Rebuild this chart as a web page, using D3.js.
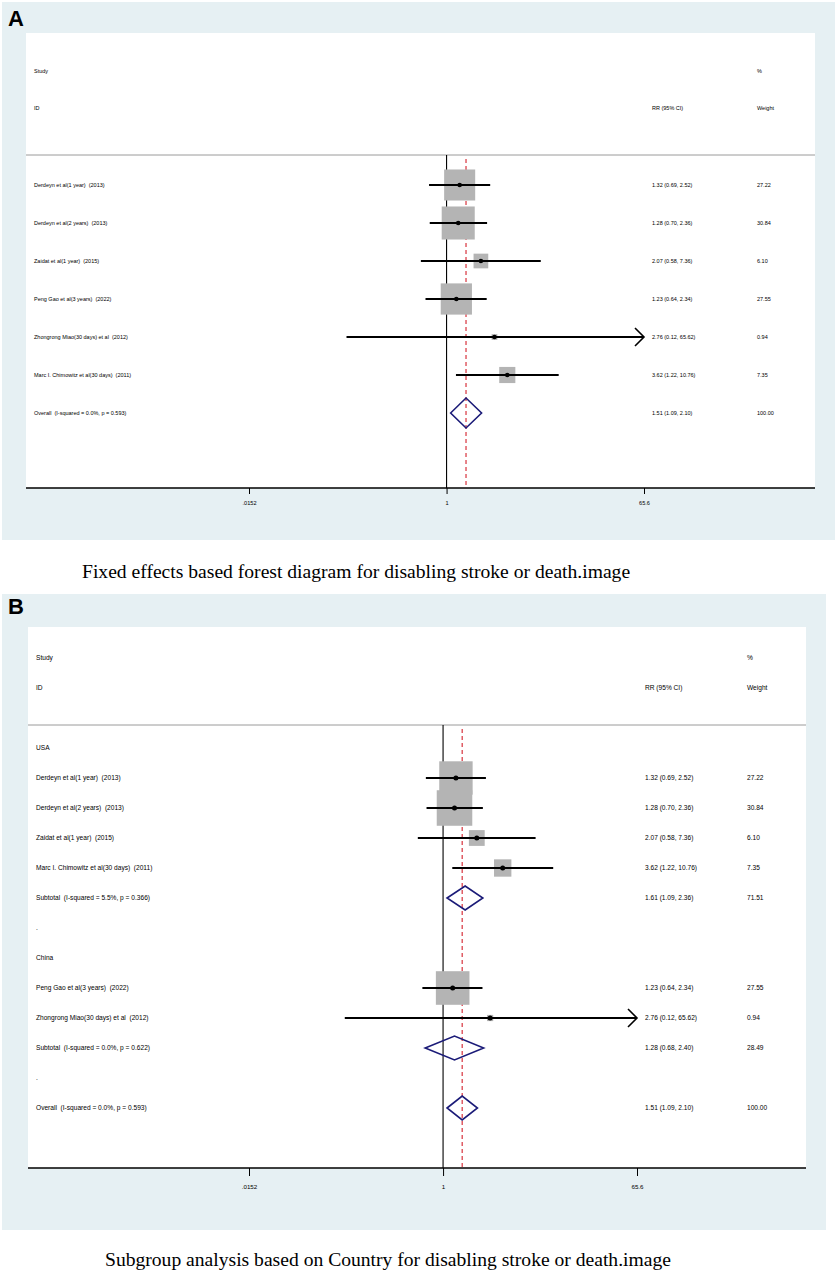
<!DOCTYPE html>
<html lang="en">
<head>
<meta charset="UTF-8" />
<title>Forest plots - disabling stroke or death</title>
<script src="https://d3js.org/d3.v7.min.js"></script>
<style>
    body { margin: 0; background: #fff; }
    svg { display: block; }
    .lbl { font-family: "Liberation Sans", Arial, sans-serif; fill: #000; white-space: pre; }
    .cap { font-family: "Liberation Serif", "Times New Roman", serif; fill: #000; }
</style>
</head>
<body>
<script>
    // study level data
    const studyNames = [
        "Derdeyn et al(1 year)  (2013)",
        "Derdeyn et al(2 years)  (2013)",
        "Zaidat et al(1 year)  (2015)",
        "Peng Gao et al(3 years)  (2022)",
        "Zhongrong Miao(30 days) et al  (2012)",
        "Marc I. Chimowitz et al(30 days)  (2011)"
    ];
    const studyCountry = ["USA", "USA", "USA", "China", "China", "USA"];
    const studyRR = [1.32, 1.28, 2.07, 1.23, 2.76, 3.62];
    const studyLo = [0.69, 0.70, 0.58, 0.64, 0.12, 1.22];
    const studyHi = [2.52, 2.36, 7.36, 2.34, 65.62, 10.76];
    const studyWeight = [27.22, 30.84, 6.10, 27.55, 0.94, 7.35];

    // subgroups (panel B)
    const countries = ["USA", "China"];
    const subtotalLabels = ["Subtotal  (I-squared = 5.5%, p = 0.366)", "Subtotal  (I-squared = 0.0%, p = 0.622)"];
    const subRR = [1.61, 1.28];
    const subLo = [1.09, 0.68];
    const subHi = [2.36, 2.40];
    const subWeight = [71.51, 28.49];

    // pooled
    const overallLabel = "Overall  (I-squared = 0.0%, p = 0.593)";
    const overallEst = [1.51, 1.09, 2.10];
    const overallWeight = 100.00;

    // x axis
    const tickValues = [0.0152, 1, 65.6];
    const tickLabels = [".0152", "1", "65.6"];

    const captions = [
        "Fixed effects based forest diagram for disabling stroke or death.image",
        "Subgroup analysis based on Country for disabling stroke or death.image"
    ];

    const fmt = d3.format(".2f");
    const ciText = (r, l, h) => fmt(r) + " (" + fmt(l) + ", " + fmt(h) + ")";

    function studyRow(i) {
        return { type: "study", label: studyNames[i], rr: studyRR[i], lo: studyLo[i], hi: studyHi[i], w: studyWeight[i] };
    }
    const overallRow = { type: "pooled", label: overallLabel, rr: overallEst[0], lo: overallEst[1], hi: overallEst[2], w: overallWeight };

    // panel A rows: all studies then overall
    const rowsA = studyNames.map((_, i) => studyRow(i)).concat([overallRow]);

    // panel B rows: grouped by country
    const rowsB = [];
    countries.forEach((c, g) => {
        rowsB.push({ type: "heading", label: c });
        studyNames.forEach((_, i) => { if (studyCountry[i] === c) rowsB.push(studyRow(i)); });
        rowsB.push({ type: "pooled", label: subtotalLabels[g], rr: subRR[g], lo: subLo[g], hi: subHi[g], w: subWeight[g] });
        rowsB.push({ type: "heading", label: "." });
    });
    rowsB.push(overallRow);

    const panels = [
        { letter: "A", letterY: 26, bg: [2, 2, 835, 540], plot: [26, 33, 815, 488], sepY: 155,
          rowY: [185, 413], xRange: [249, 644], labelX: 34, rrX: 652, wX: 757, headY: [71, 108],
          font: 5.5, tickFont: 5.6, tickLen: 6, tickY: 503, boxK: 5.95, dH: 15, dot: 2.3, arrow: 9,
          rows: rowsA, capX: 82, capY: 578 },
        { letter: "B", letterY: 614, bg: [2, 594, 826, 1230], plot: [28, 627, 806, 1168], sepY: 725,
          rowY: [748, 1108], xRange: [249, 637], labelX: 36, rrX: 645, wX: 747, headY: [658, 688],
          font: 6.6, tickFont: 6.2, tickLen: 8, tickY: 1187, boxK: 6.4, dH: 12, dot: 2.5, arrow: 9,
          rows: rowsB, capX: 105, capY: 1266 }
    ];

    const svg = d3.select("body").append("svg").attr("width", 837).attr("height", 1272);

    panels.forEach((p, pi) => {
        const g = svg.append("g");
        const [bx0, by0, bx1, by1] = p.bg;
        const [px0, py0, px1, py1] = p.plot;

        g.append("rect").attr("x", bx0).attr("y", by0).attr("width", bx1 - bx0).attr("height", by1 - by0)
            .attr("fill", "#e6f0f3");
        g.append("rect").attr("x", px0).attr("y", py0).attr("width", px1 - px0).attr("height", py1 - py0)
            .attr("fill", "#fff");
        g.append("text").attr("class", "lbl").attr("x", 8).attr("y", p.letterY)
            .attr("font-size", 22).attr("font-weight", "bold").text(p.letter);

        const x = d3.scaleLog().domain([tickValues[0], tickValues[2]]).range(p.xRange);
        const y = d3.scaleLinear().domain([0, p.rows.length - 1]).range(p.rowY);

        // headers
        const head = [["Study", p.labelX, p.headY[0]], ["ID", p.labelX, p.headY[1]],
                      ["%", p.wX, p.headY[0]], ["Weight", p.wX, p.headY[1]], ["RR (95% CI)", p.rrX, p.headY[1]]];
        g.selectAll(".head").data(head).join("text").attr("class", "lbl head")
            .attr("x", d => d[1]).attr("y", d => d[2]).attr("dy", "0.35em")
            .attr("font-size", p.font).text(d => d[0]);

        g.append("line").attr("x1", px0).attr("x2", px1).attr("y1", p.sepY).attr("y2", p.sepY)
            .attr("stroke", "#9a9a9a").attr("stroke-width", 1);

        // null line and pooled estimate line
        g.append("line").attr("x1", x(1)).attr("x2", x(1)).attr("y1", p.sepY).attr("y2", py1)
            .attr("stroke", "#000").attr("stroke-width", 1.1);
        g.append("line").attr("x1", x(overallEst[0])).attr("x2", x(overallEst[0])).attr("y1", p.sepY + 4).attr("y2", py1)
            .attr("stroke", "#d4202c").attr("stroke-width", 1.1).attr("stroke-dasharray", "4,3");

        const rows = p.rows.map((r, i) => Object.assign({ i }, r));
        const studies = rows.filter(r => r.type === "study");
        const pooled = rows.filter(r => r.type === "pooled");

        // weight boxes
        const side = d => p.boxK * Math.sqrt(d.w);
        g.selectAll(".box").data(studies).join("rect").attr("class", "box")
            .attr("x", d => x(d.rr) - side(d) / 2)
            .attr("y", d => y(d.i) - side(d) / 2)
            .attr("width", side)
            .attr("height", side)
            .attr("fill", "#b4b4b4");

        // confidence intervals
        const xMax = tickValues[2], xMin = tickValues[0];
        g.selectAll(".ci").data(studies).join("line").attr("class", "ci")
            .attr("x1", d => x(Math.max(d.lo, xMin))).attr("x2", d => x(Math.min(d.hi, xMax)))
            .attr("y1", d => y(d.i)).attr("y2", d => y(d.i))
            .attr("stroke", "#000").attr("stroke-width", 2);
        g.selectAll(".arrow").data(studies.filter(d => d.hi > xMax)).join("path").attr("class", "arrow")
            .attr("d", d => {
                const xe = x(xMax), yy = y(d.i), a = p.arrow;
                return `M${xe - a},${yy - a}L${xe},${yy}L${xe - a},${yy + a}`;
            })
            .attr("fill", "none").attr("stroke", "#000").attr("stroke-width", 1.6);
        g.selectAll(".pt").data(studies).join("circle").attr("class", "pt")
            .attr("cx", d => x(d.rr)).attr("cy", d => y(d.i)).attr("r", p.dot).attr("fill", "#000");

        // pooled diamonds
        g.selectAll(".dia").data(pooled).join("path").attr("class", "dia")
            .attr("d", d => {
                const yy = y(d.i);
                return `M${x(d.lo)},${yy}L${x(d.rr)},${yy - p.dH}L${x(d.hi)},${yy}L${x(d.rr)},${yy + p.dH}Z`;
            })
            .attr("fill", "none").attr("stroke", "#1b1b78").attr("stroke-width", 1.6);

        // row texts
        g.selectAll(".rl").data(rows).join("text").attr("class", "lbl rl")
            .attr("x", p.labelX).attr("y", d => y(d.i)).attr("dy", "0.35em").attr("font-size", p.font)
            .text(d => d.label);
        const est = rows.filter(r => r.type !== "heading");
        g.selectAll(".rr").data(est).join("text").attr("class", "lbl rr")
            .attr("x", p.rrX).attr("y", d => y(d.i)).attr("dy", "0.35em").attr("font-size", p.font)
            .text(d => ciText(d.rr, d.lo, d.hi));
        g.selectAll(".wt").data(est).join("text").attr("class", "lbl wt")
            .attr("x", p.wX).attr("y", d => y(d.i)).attr("dy", "0.35em").attr("font-size", p.font)
            .text(d => fmt(d.w));

        // x axis
        g.append("line").attr("x1", px0).attr("x2", px1).attr("y1", py1).attr("y2", py1)
            .attr("stroke", "#000").attr("stroke-width", 1.6);
        const axis = d3.axisBottom(x).tickValues(tickValues).tickFormat((d, i) => tickLabels[i])
            .tickSize(p.tickLen).tickSizeOuter(0);
        const ax = g.append("g").attr("transform", `translate(0,${py1})`).call(axis);
        ax.select(".domain").remove();
        ax.selectAll(".tick line").attr("stroke", "#000").attr("stroke-width", 1);
        ax.selectAll(".tick text").attr("class", "lbl").attr("font-size", p.tickFont)
            .attr("y", p.tickY - py1).attr("dy", "0.35em").attr("font-family", "Liberation Sans, Arial, sans-serif")
            .attr("fill", "#000");

        svg.append("text").attr("class", "cap").attr("x", p.capX).attr("y", p.capY)
            .attr("font-size", 19.6).text(captions[pi]);
    });
</script>
</body>
</html>
